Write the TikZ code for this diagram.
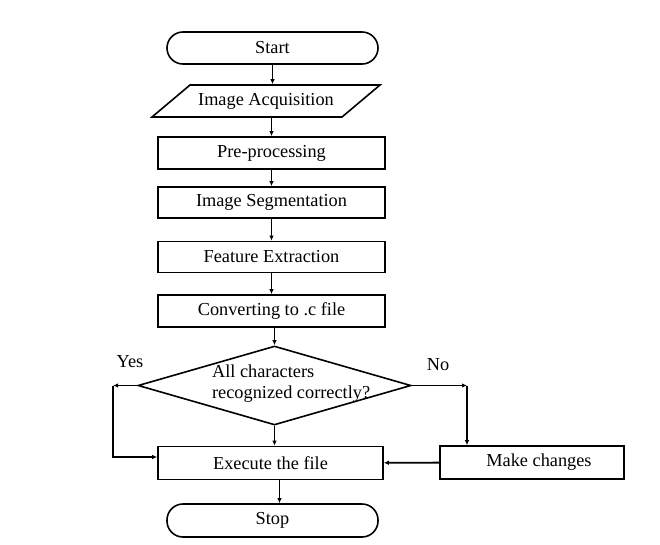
\documentclass[tikz,border=0pt]{standalone}
\usepackage{fontspec}
\setmainfont{Liberation Serif}
\usetikzlibrary{shapes.geometric,arrows.meta}
\begin{document}
\begin{tikzpicture}[x=1pt,y=-1pt,line width=1.6pt,
	>={Latex[length=5pt,width=4.5pt]},
	txt/.style={font=\fontsize{18.3}{21}\selectfont},
	box/.style={txt,draw,rectangle,inner sep=0pt,minimum width=227pt,minimum height=32pt},
	term/.style={box,rounded corners=16pt,minimum width=211pt},
	link/.style={->,line width=1.9pt}]
	\useasboundingbox (0,0) rectangle (660,544);
		\node[term] (start) at (272.5,48) {Start};
		\draw (190,85)--(380,85)--(342,117)--(152,117)--cycle;
		\node[txt,inner sep=0pt,minimum height=32pt] (acq) at (266,101) {Image Acquisition};
		\node[box] (pre) at (271.5,153) {Pre-processing};
		\node[box,minimum height=31pt] (seg) at (271.5,202.5) {Image Segmentation};
		\node[box,minimum height=31pt] (feat) at (271.5,257) {Feature Extraction};
		\node[box] (conv) at (271.5,311) {Converting to .c file};
		\node[draw,diamond,inner sep=0pt,minimum width=273pt,minimum height=79pt] (dec) at (274.5,385.5) {};
		\node[txt,align=left,anchor=west] (dectxt) at (208,384) {All characters\\recognized correctly?};
		\node[box,minimum width=225pt,minimum height=33pt] (exec) at (270.5,463) {Execute the file};
		\node[box,minimum width=184pt,minimum height=33pt] (make) at (532,462.5) {\hspace{14pt}Make changes};
		\node[term,minimum height=33pt] (stop) at (272.5,520.5) {Stop};
		\node[txt] (yes) at (130,362) {Yes};
		\node[txt] (no) at (438,365) {No};
		\coordinate (yesc) at (113,385.5);
		\coordinate (noc) at (467,385.5);
			\draw[link] (start.south) -- (start.south |- acq.north);
			\draw[link] (pre.north |- acq.south) -- (pre.north);
			\draw[link] (pre) -- (seg);
			\draw[link] (seg) -- (feat);
			\draw[link] (feat) -- (conv);
			\draw[link] (dec.north |- conv.south) -- (dec.north);
			\draw[link] (dec.south) -- (dec.south |- exec.north);
			\draw[link] (dec.west) -- (yesc);
			\draw[link] (yesc) |- ([yshift=6pt]exec.west);
			\draw[link] (dec.east) -- (noc);
			\draw[link] (noc) -- (noc |- make.north);
			\draw[link] (make) -- (exec);
			\draw[link] ([xshift=9pt]exec.south) -- ([xshift=7pt]stop.north);
\end{tikzpicture}
\end{document}
